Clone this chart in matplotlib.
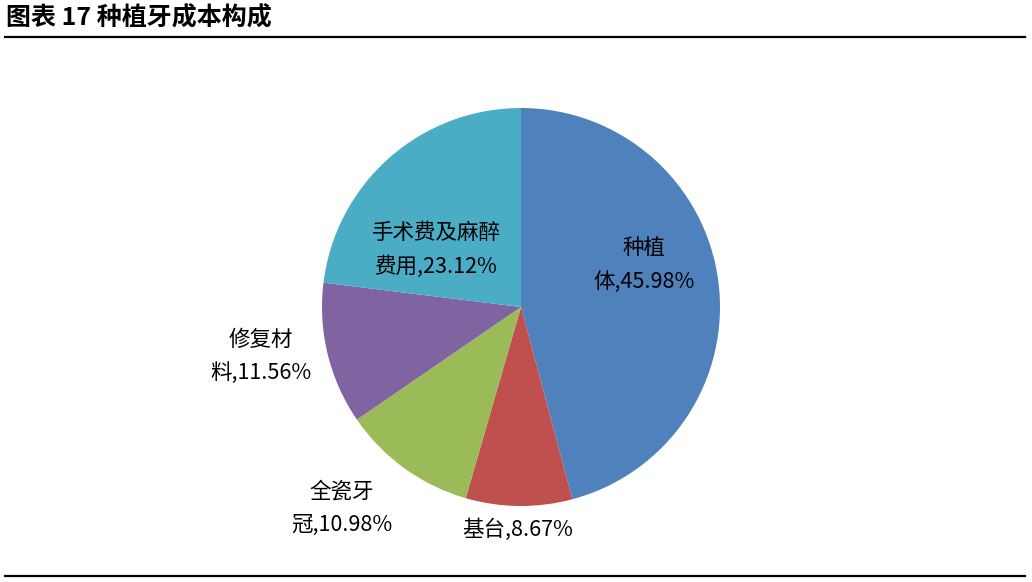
import matplotlib.pyplot as plt
from matplotlib.lines import Line2D

plt.rcParams['font.family'] = ['Noto Sans CJK SC', 'DejaVu Sans']

#chart data
labels = ['种植\n体', '基台', '全瓷牙\n冠', '修复材\n料', '手术费及麻醉\n费用']
shares = [45.98, 8.67, 10.98, 11.56, 23.12]
colors = ['#4F81BD', '#C0504D', '#9BBB59', '#8064A2', '#4BACC6']
title = '图表 17 种植牙成本构成'

#label centres in pixels (x, y from top)
label_pos = [(644, 265), (518, 530), (342, 508), (261, 356), (436, 250)]

W, H = 1032, 582
fig = plt.figure(figsize=(W / 100, H / 100), dpi=100)

#pie axes placed so centre = (521, 307) px, radius = 199 px
cx, cy, r = 521, 307, 199
ax = fig.add_axes([(cx - r) / W, (H - cy - r) / H, 2 * r / W, 2 * r / H])
ax.pie(shares, colors=colors, startangle=90, counterclock=False,
       radius=1, wedgeprops={'linewidth': 0})
ax.set_xlim(-1, 1)
ax.set_ylim(-1, 1)
ax.set_aspect('auto')
ax.axis('off')

for lab, val, (px, py) in zip(labels, shares, label_pos):
    fig.text(px / W, 1 - py / H, '%s,%.2f%%' % (lab, val), ha='center', va='center',
             fontsize=15.5, linespacing=1.65, color='black')

#title and rules
fig.text(6 / W, 1 - 18 / H, title, ha='left', va='center', fontsize=18, fontweight='bold')
fig.add_artist(Line2D([5 / W, 1025 / W], [1 - 37 / H, 1 - 37 / H], color='black', lw=1.6))
fig.add_artist(Line2D([5 / W, 1025 / W], [1 - 576 / H, 1 - 576 / H], color='black', lw=1.6))

fig.savefig('out.png', dpi=100)
